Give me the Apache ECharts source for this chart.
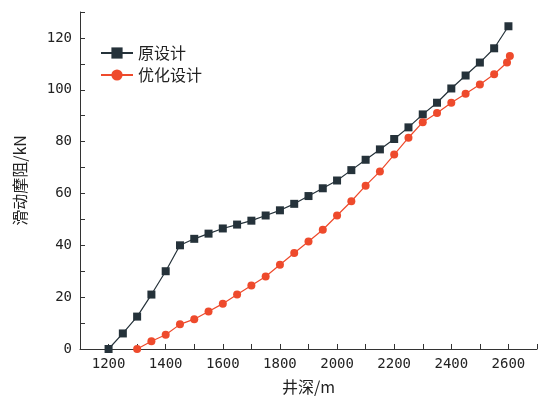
<!DOCTYPE html>
<html><head><meta charset="utf-8">
<script src="https://cdn.jsdelivr.net/npm/echarts@6/dist/echarts.min.js"></script>
</head><body style="margin:0">
<div id="c" style="width:540px;height:400px"></div>
<script>
var depthA = [1200,1250,1300,1350,1400,1450,1500,1550,1600,1650,1700,1750,1800,1850,1900,1950,2000,2050,2100,2150,2200,2250,2300,2350,2400,2450,2500,2550,2600];
var forceA = [0,6,12.5,21,30,40,42.5,44.5,46.5,48,49.5,51.5,53.5,56,59,62,65,69,73,77,81,85.5,90.5,95,100.5,105.5,110.5,116,124.5];
var depthB = [1300,1350,1400,1450,1500,1550,1600,1650,1700,1750,1800,1850,1900,1950,2000,2050,2100,2150,2200,2250,2300,2350,2400,2450,2500,2550,2595,2605];
var forceB = [0,3,5.5,9.5,11.5,14.5,17.5,21,24.5,28,32.5,37,41.5,46,51.5,57,63,68.5,75,81.5,87.5,91,95,98.5,102,106,110.5,113];
function pairs(x, y) { return x.map(function (v, i) { return [v, y[i]]; }); }
var font = 'Noto Sans CJK SC';
echarts.init(document.getElementById('c')).setOption({
  animation: false,
  grid: { left: 80, right: 1, top: 12, bottom: 51 },
  legend: {
    left: 95, top: 40, orient: 'vertical', itemGap: 6, itemWidth: 32,
    textStyle: { fontFamily: font, fontSize: 16, color: '#222' },
    data: ['原设计', '优化设计']
  },
  xAxis: {
    type: 'value', min: 1100, max: 2700, interval: 100,
    name: '井深/m', nameLocation: 'middle', nameGap: 30,
    nameTextStyle: { fontFamily: font, fontSize: 16, color: '#222' },
    axisLine: { lineStyle: { color: '#333' } },
    axisTick: { inside: true, length: 5, lineStyle: { color: '#333' } },
    axisLabel: { fontFamily: 'DejaVu Sans Mono', fontSize: 14, color: '#222',
      formatter: function (v) { return (v % 200 === 0 && v <= 2600) ? v : ''; } },
    splitLine: { show: false }
  },
  yAxis: {
    type: 'value', min: 0, max: 130, interval: 10,
    name: '滑动摩阻/kN', nameLocation: 'middle', nameGap: 52,
    nameTextStyle: { fontFamily: font, fontSize: 16, color: '#222' },
    axisLine: { show: true, lineStyle: { color: '#333' } },
    axisTick: { inside: true, length: 5, lineStyle: { color: '#333' } },
    axisLabel: { fontFamily: 'DejaVu Sans Mono', fontSize: 14, color: '#222',
      formatter: function (v) { return (v % 20 === 0 && v <= 120) ? v : ''; } },
    splitLine: { show: false }
  },
  series: [
    { name: '原设计', type: 'line', data: pairs(depthA, forceA),
      symbol: 'rect', symbolSize: 8, color: '#25323a', lineStyle: { width: 1.2 } },
    { name: '优化设计', type: 'line', data: pairs(depthB, forceB),
      symbol: 'circle', symbolSize: 8, color: '#ee4a2c', lineStyle: { width: 1.2 } }
  ]
});
</script>
</body></html>
